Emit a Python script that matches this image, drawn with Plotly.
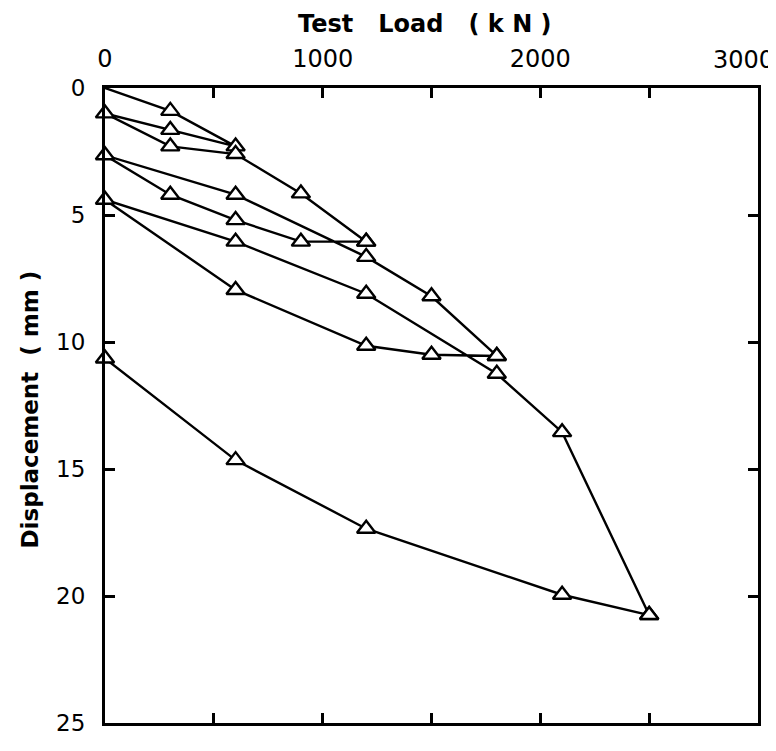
import plotly.graph_objects as go

# Cyclic pile load test: each list is one loading/unloading branch
load_c1 = [0, 300, 600, 300, 0, 300, 600, 900, 1200]
disp_c1 = [0, 0.9, 2.3, 1.65, 1.0, 2.3, 2.6, 4.15, 6.05]

load_c2 = [1200, 900, 600, 300, 0, 600, 1200, 1500, 1800]
disp_c2 = [6.05, 6.05, 5.2, 4.2, 2.65, 4.2, 6.65, 8.2, 10.55]

load_c3 = [1800, 1500, 1200, 600, 0, 600, 1200, 1800, 2100, 2500]
disp_c3 = [10.55, 10.5, 10.15, 7.95, 4.4, 6.05, 8.1, 11.25, 13.55, 20.75]

load_c4 = [2500, 2100, 1200, 600, 0]
disp_c4 = [20.75, 19.95, 17.35, 14.65, 10.65]

# marker flags: the first point of cycle 1 (origin) has no symbol
marker_c1 = [False, True, True, True, True, True, True, True, True]

x_tick_vals = [0, 500, 1000, 1500, 2000, 2500, 3000]
x_tick_text = ["0", "", "1000", "", "2000", "", "3000"]
y_tick_vals = [0, 5, 10, 15, 20, 25]
y_tick_text = ["0", "5", "10", "15", "20", "25"]

x_title = "<b>Test   Load   ( k N )</b>"
y_title = "<b>Displacement  ( mm )</b>"

fig = go.Figure()

branches = [(load_c1, disp_c1), (load_c2, disp_c2), (load_c3, disp_c3), (load_c4, disp_c4)]
for lx, ly in branches:
    fig.add_trace(go.Scatter(
        x=lx, y=ly, mode="lines",
        line=dict(color="black", width=2.4),
        showlegend=False, hoverinfo="skip"))

# markers
mx, my = [], []
for i, (lx, ly) in enumerate(branches):
    for j, (a, b) in enumerate(zip(lx, ly)):
        if i == 0 and not marker_c1[j]:
            continue
        mx.append(a)
        my.append(b)
fig.add_trace(go.Scatter(
    x=mx, y=my, mode="markers",
    marker=dict(symbol="triangle-up", size=16, color="white",
                line=dict(color="black", width=2.4)),
    showlegend=False, cliponaxis=False))

font_family = "DejaVu Sans"
tick_font = dict(size=24, family=font_family, color="black")

# the last top label sits left of its tick (it would not fit centred)
shown_text = x_tick_text[:-1] + [""]

fig.update_layout(
    width=776, height=751,
    paper_bgcolor="white", plot_bgcolor="white",
    margin=dict(l=97, r=26, t=80, b=36, autoexpand=False),
    font=dict(family=font_family, color="black"),
    xaxis=dict(
        side="top", range=[0, 3000], tickvals=x_tick_vals, ticktext=shown_text,
        ticks="inside", ticklen=10, tickwidth=2.5, tickcolor="black",
        showline=True, linecolor="black", linewidth=3, mirror="ticks",
        showgrid=False, zeroline=False, automargin=False,
        ticklabelstandoff=8,
        tickfont=tick_font,
    ),
    yaxis=dict(
        range=[25, 0], tickvals=y_tick_vals, ticktext=y_tick_text,
        ticks="inside", ticklen=10, tickwidth=2.5, tickcolor="black",
        showline=True, linecolor="black", linewidth=3, mirror="ticks",
        showgrid=False, zeroline=False, automargin=False,
        ticklabelstandoff=12,
        tickfont=dict(size=23, family=font_family),
    ),
    annotations=[
        dict(text=x_tick_text[-1], xref="x", yref="paper", x=x_tick_vals[-1], y=1,
             xanchor="right", yanchor="bottom", xshift=18, yshift=12,
             showarrow=False, font=tick_font),
        dict(text=x_title, xref="paper", yref="paper", x=0.49, y=1,
             yanchor="middle", xanchor="center", yshift=64, showarrow=False,
             font=dict(size=24, family=font_family)),
        dict(text=y_title, xref="paper", yref="paper", x=0, y=0.5,
             xanchor="center", yanchor="middle", xshift=-76, yshift=-4,
             textangle=-90, showarrow=False,
             font=dict(size=23, family=font_family)),
    ],
)

fig.write_html("out.html")
